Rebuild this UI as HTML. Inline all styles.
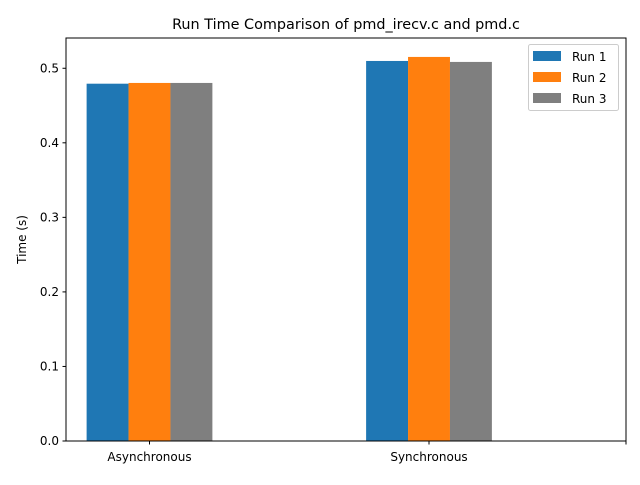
<!DOCTYPE html>
<html><head><meta charset="utf-8"><style>
body{margin:0;background:#fff;font-family:"Liberation Sans","DejaVu Sans",sans-serif}
svg text{font-family:"DejaVu Sans","Liberation Sans",sans-serif;fill:#000}
</style></head><body>
<svg id="c" width="640" height="480" xmlns="http://www.w3.org/2000/svg"></svg>
<script>
const categories = ["Asynchronous", "Synchronous"];
const run1 = [0.4793, 0.5098];
const run2 = [0.4803, 0.5152];
const run3 = [0.4803, 0.5085];
const seriesNames = ["Run 1", "Run 2", "Run 3"];
const yTicks = [0.0, 0.1, 0.2, 0.3, 0.4, 0.5];
const yTickLabels = ["0.0", "0.1", "0.2", "0.3", "0.4", "0.5"];

const colors = ["#1f77b4", "#ff7f0e", "#7f7f7f"];
const L = 66, R = 626, T = 38, B = 441;
const yMax = 0.5406;
const ys = v => B - v / yMax * (B - T);
const unit = 279.5, x0 = 149.5, bw = 0.15;
const xs = v => x0 + v * unit;
const NS = "http://www.w3.org/2000/svg";
const svg = document.getElementById("c");
function mk(tag, attrs, parent) {
  const e = document.createElementNS(NS, tag);
  for (const k in attrs) e.setAttribute(k, attrs[k]);
  (parent || svg).appendChild(e);
  return e;
}
// bars
const series = [run1, run2, run3];
series.forEach((s, si) => {
  s.forEach((v, i) => {
    const cx = i + (si - 1) * bw;
    const r = mk("rect", {x: xs(cx - bw / 2), y: ys(v), width: bw * unit, height: B - ys(v), fill: colors[si]});
    
    
  });
});
// frame
const fr = mk("rect", {x: L, y: T, width: R - L, height: B - T, fill: "none", stroke: "#000", "stroke-width": 1});


// y ticks
yTicks.forEach((t, i) => {
  const y = ys(t);
  const tk = mk("line", {x1: L - 3.5, x2: L, y1: y, y2: y, stroke: "#000"});
  
  
  const tx = mk("text", {x: L - 7, y: y + 4, "text-anchor": "end", "font-size": 12});
  tx.textContent = yTickLabels[i];
  
  
});
// x ticks
categories.forEach((c, i) => {
  const x = xs(i);
  const tk = mk("line", {x1: x, x2: x, y1: B, y2: B + 3.5, stroke: "#000"});
  
  
  const tx = mk("text", {x: x, y: B + 20, "text-anchor": "middle", "font-size": 12});
  tx.textContent = c;
  
  
});
const et = mk("line", {x1: R, x2: R, y1: B, y2: B + 3.5, stroke: "#000"});


// titles
const ttl = mk("text", {x: (L + R) / 2, y: 29, "text-anchor": "middle", "font-size": 14.4});
ttl.textContent = "Run Time Comparison of pmd_irecv.c and pmd.c";


const yt = mk("text", {x: 0, y: 0, "text-anchor": "middle", "font-size": 12, transform: "translate(26," + ((T + B) / 2) + ") rotate(-90)"});
yt.textContent = "Time (s)";


// legend
const lg = mk("g", {});


mk("rect", {x: 528.5, y: 44.5, width: 90, height: 66, rx: 2, fill: "#fff", stroke: "#ccc", "fill-opacity": 0.8}, lg);
seriesNames.forEach((n, i) => {
  const y = 51 + i * 21;
  const sw = mk("rect", {x: 533, y: y, width: 28, height: 10, fill: colors[i]}, lg);
  
  
  const tx = mk("text", {x: 572, y: y + 10, "font-size": 12}, lg);
  tx.textContent = n;
  
  
});
</script>
</body></html>
